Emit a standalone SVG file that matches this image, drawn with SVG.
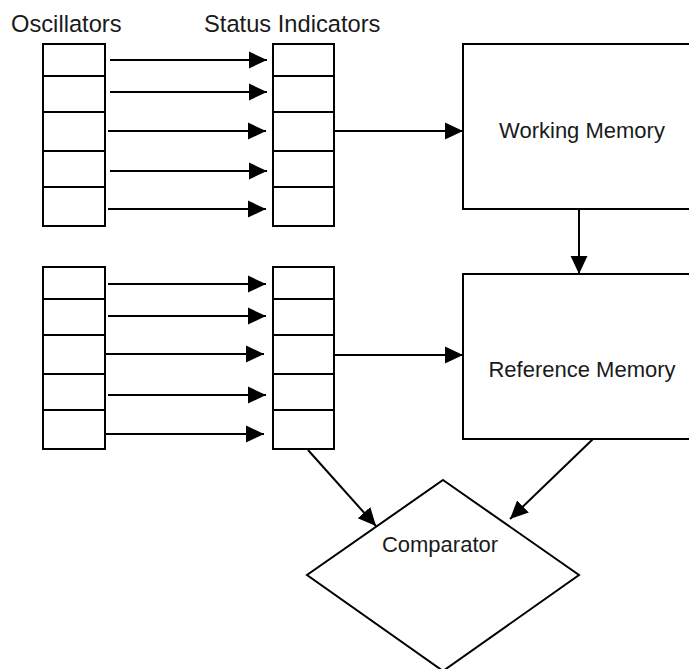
<svg xmlns="http://www.w3.org/2000/svg" width="689" height="669" viewBox="0 0 689 669">
<style>
.box{fill:#fff;stroke:#000;stroke-width:2}
.cell{fill:none;stroke:#000;stroke-width:2}
.conn{fill:none;stroke:#000;stroke-width:2;marker-end:url(#ah)}
text{font-family:"Liberation Sans",Arial,sans-serif;fill:#1a1a1a}
.lbl{font-size:23.7px}
.nl{font-size:22px;text-anchor:middle}
</style>
<defs>
<marker id="ah" markerUnits="userSpaceOnUse" markerWidth="18" markerHeight="18" viewBox="0 0 16 16" refX="16" refY="8" orient="auto">
<path d="M0,0.5 L16,8 L0,15.5 Z" fill="#000"/>
</marker>
</defs>
<rect width="689" height="669" fill="#fff"/>
<text class="lbl" x="11" y="32">Oscillators</text>
<text class="lbl" x="204" y="32">Status Indicators</text>
<g id="osc1">
<rect class="box" x="43" y="44" width="62" height="182"/>
<path class="cell" d="M43,76H105M43,112H105M43,151H105M43,187H105"/>
</g>
<g id="status1">
<rect class="box" x="273" y="44" width="61" height="182"/>
<path class="cell" d="M273,76H334M273,112H334M273,151H334M273,187H334"/>
</g>
<g id="osc2">
<rect class="box" x="43" y="267" width="62" height="182"/>
<path class="cell" d="M43,299H105M43,335H105M43,374H105M43,410H105"/>
</g>
<g id="status2">
<rect class="box" x="273" y="267" width="61" height="182"/>
<path class="cell" d="M273,299H334M273,335H334M273,374H334M273,410H334"/>
</g>
<g id="working">
<rect class="box" x="463" y="44" width="240" height="165"/>
<text class="nl" x="582" y="138">Working Memory</text>
</g>
<g id="reference">
<rect class="box" x="463" y="274" width="240" height="165"/>
<text class="nl" x="582" y="377">Reference Memory</text>
</g>
<g id="comparator">
<polygon class="box" points="443,480 579,575 443,671 307,575"/>
<text class="nl" x="440" y="552">Comparator</text>
</g>
<g id="connectors">
<path class="conn" d="M110,60H267"/>
<path class="conn" d="M110,92H267"/>
<path class="conn" d="M108,131H266"/>
<path class="conn" d="M110,171H267"/>
<path class="conn" d="M108,209H266"/>
<path class="conn" d="M108,284H266"/>
<path class="conn" d="M108,316H266"/>
<path class="conn" d="M106,354H264"/>
<path class="conn" d="M108,395H266"/>
<path class="conn" d="M106,434H264"/>
<path class="conn" d="M334,131H463"/>
<path class="conn" d="M334,355H463"/>
<path class="conn" d="M579,209V274"/>
<path class="conn" d="M308,450L376,526"/>
<path class="conn" d="M593,439L510,519"/>
</g>
</svg>
